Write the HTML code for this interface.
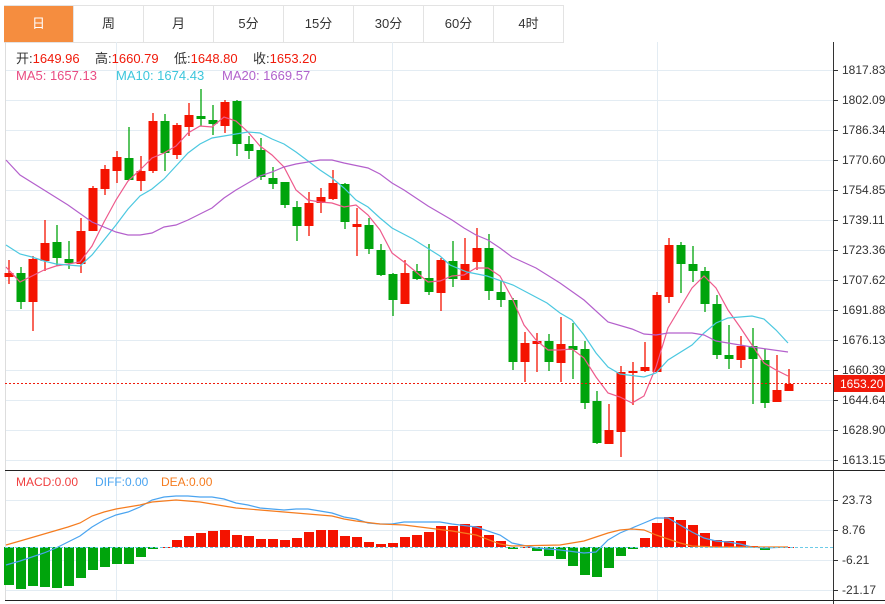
<!DOCTYPE html>
<html><head><meta charset="utf-8"><style>
body{margin:0;width:885px;height:604px;background:#fff;overflow:hidden;font-family:"Liberation Sans","Noto Sans CJK SC",sans-serif}
.tabs{position:absolute;left:4px;top:5px;height:36px;display:flex;border-top:1px solid #e3e3e3;border-bottom:1px solid #e3e3e3}
.tabs div{width:70px;height:36px;line-height:36px;text-align:center;font-size:13px;color:#333;border-right:1px solid #e3e3e3;box-sizing:border-box}
.tabs div.on{background:#f58d3f;color:#fff}
</style></head><body>
<div class="tabs"><div class="on">日</div><div>周</div><div>月</div><div>5分</div><div>15分</div><div>30分</div><div>60分</div><div>4时</div></div>
<svg id="s" width="885" height="604" style="position:absolute;left:0;top:0" font-family="Liberation Sans, Noto Sans CJK SC, sans-serif">
<g id="grid" stroke="#e3ecf3" stroke-width="1"></g>
<line x1="5.5" y1="42" x2="5.5" y2="600" stroke="#ddd"/>
<line x1="833.5" y1="42" x2="833.5" y2="604" stroke="#333"/>
<line x1="5" y1="470.5" x2="885" y2="470.5" stroke="#222"/>
<line x1="5" y1="600.5" x2="885" y2="600.5" stroke="#222"/>
<g id="c"></g>
<line x1="5" y1="383.5" x2="833" y2="383.5" stroke="#f01a0a" stroke-dasharray="2,2"/>
<line x1="5" y1="547.5" x2="833" y2="547.5" stroke="#6ccbe8" stroke-dasharray="3,2"/>
<g font-size="13" fill="#333">
<text x="16" y="63">开:<tspan fill="#f01a0a">1649.96</tspan></text>
<text x="95" y="63">高:<tspan fill="#f01a0a">1660.79</tspan></text>
<text x="174" y="63">低:<tspan fill="#f01a0a">1648.80</tspan></text>
<text x="253" y="63">收:<tspan fill="#f01a0a">1653.20</tspan></text>
<text x="16" y="80" fill="#e94c83">MA5: 1657.13</text>
<text x="116" y="80" fill="#3cc6dc">MA10: 1674.43</text>
<text x="222" y="80" fill="#b162cc">MA20: 1669.57</text>
<text x="16" y="486" font-size="12" fill="#f04040">MACD:0.00</text>
<text x="95" y="486" font-size="12" fill="#4aa4f0">DIFF:0.00</text>
<text x="161" y="486" font-size="12" fill="#f57c1f">DEA:0.00</text>
</g>
<g id="ax" font-size="12" fill="#333"></g>
<rect x="834" y="375" width="51" height="17" fill="#f01a0a"/>
<text x="840" y="388" font-size="12" fill="#fff">1653.20</text>
</svg>
<script>
var ns="http://www.w3.org/2000/svg";
function el(p,t,a){var e=document.createElementNS(ns,t);for(var k in a)e.setAttribute(k,a[k]);p.appendChild(e);return e;}
var g=document.getElementById('grid'),ax=document.getElementById('ax'),c=document.getElementById('c');
var pl=["1817.83","1802.09","1786.34","1770.60","1754.85","1739.11","1723.36","1707.62","1691.88","1676.13","1660.39","1644.64","1628.90","1613.15"];
for(var i=0;i<14;i++){var y=70+30*i;el(g,'line',{x1:5,y1:y+.5,x2:833,y2:y+.5});el(ax,'line',{x1:833,y1:y+.5,x2:838,y2:y+.5,stroke:'#333'});var t=el(ax,'text',{x:842,y:y+4});t.textContent=pl[i];}
var ml=[["23.73",500],["8.76",530],["-6.21",560],["-21.17",590]];
ml.forEach(function(m){el(g,'line',{x1:5,y1:m[1]+.5,x2:833,y2:m[1]+.5});el(ax,'line',{x1:833,y1:m[1]+.5,x2:838,y2:m[1]+.5,stroke:'#333'});var t=el(ax,'text',{x:842,y:m[1]+4});t.textContent=m[0];});
[116.5,392.5,657.5].forEach(function(x){el(g,'line',{x1:x,y1:42,x2:x,y2:600});});
var R='#f41300',G='#00a40c';
var d=[[273,277,260,284,1],[273,302,267,309,0],[259,302,256,331,1],[243,261,220,271,1],[242,258,225,266,0],[259,263,241,269,0],[231,264,218,273,1],[188,231,186,231,1],[169,189,165,195,1],[157,171,151,183,1],[158,180,127,180,0],[171,181,156,191,1],[121,171,113,173,1],[121,153,114,171,0],[125,155,123,159,1],[115,127,103,136,1],[116,119,89,126,0],[120,124,105,135,0],[102,126,100,133,1],[101,144,100,156,0],[144,151,136,159,0],[150,177,138,180,0],[178,184,167,189,0],[182,205,182,208,0],[207,226,201,241,0],[203,226,192,236,1],[197,203,188,213,1],[183,199,170,200,1],[184,222,183,229,0],[224,227,208,256,1],[225,249,218,254,0],[250,275,244,276,0],[274,300,273,316,0],[273,304,260,304,1],[271,279,264,280,0],[278,292,244,295,0],[260,293,258,311,1],[261,279,241,287,0],[264,280,238,280,1],[248,262,228,270,1],[248,291,234,300,0],[292,300,281,307,0],[300,362,298,370,0],[343,362,332,382,1],[341,344,333,372,1],[341,362,334,371,0],[344,363,317,382,1],[346,350,323,379,0],[349,403,341,409,0],[401,443,391,444,0],[430,444,404,444,1],[372,432,366,457,1],[371,373,362,405,1],[367,371,342,372,1],[295,372,292,372,1],[245,297,238,303,1],[245,264,242,293,0],[264,271,246,282,0],[271,304,267,312,0],[304,355,295,359,0],[355,359,325,369,0],[346,360,336,368,1],[346,359,328,404,0],[360,403,349,408,0],[390,402,355,402,1],[384,391,369,391,1]];
d.forEach(function(k,i){var x=9+12*i,col=k[4]?R:G;el(c,'line',{x1:x,y1:k[2],x2:x,y2:k[3],stroke:col,'stroke-width':1.3});el(c,'rect',{x:x-4.5,y:k[0],width:9,height:Math.max(1.5,k[1]-k[0]),fill:col});});
var mb=[585,589,586,587,588,586,578,570,567,564,564,557,549,547,540,536,533,531,530,535,536,539,539,540,538,532,530,530,536,537,542,544,543,537,535,532,526,526,524,526,535,541,549,547,551,556,559,566,575,577,568,556,549,538,523,517,520,525,533,540,541,541,546,550,547,547];
mb.forEach(function(v,i){var x=9+12*i;var col=(v>547)?G:R;var y=Math.min(v,547),h=Math.abs(v-547);if(h<1)h=1;el(c,'rect',{x:x-5,y:y,width:10,height:h,fill:col});});
function line(pts,col){el(c,'polyline',{points:pts,fill:'none',stroke:col,'stroke-width':1.2});}
line("6,267 20,282 32,276 44,270 56,266 68,264 80,262 92,246 104,222 116,200 128,181 140,170 152,158 164,153 176,146 188,133 200,126 212,127 224,117 236,121 248,132 260,146 272,155 284,167 296,190 308,200 320,202 332,203 344,207 356,205 368,215 380,230 392,253 404,262 416,272 428,282 440,281 452,276 464,275 476,268 488,268 500,276 512,298 524,325 536,340 548,350 560,350 572,349 584,358 596,377 608,393 620,397 632,403 644,396 656,367 668,328 680,308 692,288 704,276 716,288 728,310 740,327 752,345 764,363 776,370 788,376","#ee5a8c");
line("6,245 20,254 32,257 44,261 56,264 68,265 80,266 92,255 104,240 116,225 128,209 140,196 152,189 164,179 176,166 188,153 200,144 212,138 224,136 236,134 248,132 260,133 272,139 284,144 296,152 320,170 332,178 344,188 356,200 368,207 380,218 392,228 413,239 440,256 450,265 467,272 487,276 513,285 547,303 560,313 572,320 584,335 596,353 608,367 620,374 644,377 656,373 668,360 692,345 704,333 716,323 728,318 752,316 764,319 776,330 788,343","#4cc8e0");
line("6,160 20,175 44,190 68,205 92,222 116,232 128,235 140,235 152,233 164,227 176,225 188,220 200,214 212,208 224,198 236,190 248,183 260,176 272,172 284,167 296,164 320,160 332,160 344,163 368,168 380,174 392,183 404,190 428,206 452,220 464,228 476,235 488,240 500,248 512,257 536,268 560,283 584,300 608,322 632,329 644,334 656,335 668,333 692,333 704,335 716,341 740,345 752,347 788,352","#b460cc");
line("6,565 20,561 44,553 56,548 80,536 92,527 104,520 116,515 128,512 140,507 152,500 164,497 176,496 188,496 200,497 212,497 224,499 236,503 248,505 260,508 272,509 284,510 296,509 308,509 320,511 332,513 344,517 356,519 368,523 380,524 392,524 404,522 428,522 440,522 452,524 476,527 500,535 512,543 536,548 560,550 584,553 596,552 608,540 620,533 632,528 644,523 656,518 668,518 680,525 692,532 704,538 716,541 728,542 740,544 752,547 764,548 788,547","#4aa4f0");
line("6,545 20,541 44,534 68,527 80,523 92,516 104,512 116,509 128,507 140,505 152,502 164,501 176,500 188,501 200,502 212,504 224,506 236,508 260,510 284,512 308,514 332,516 344,519 356,521 380,524 404,525 428,528 452,531 476,535 500,544 512,546 560,545 572,543 584,541 596,537 608,533 620,530 632,529 644,530 656,535 668,539 680,543 692,546 716,547 788,547","#f57c1f");
</script>
</body></html>
